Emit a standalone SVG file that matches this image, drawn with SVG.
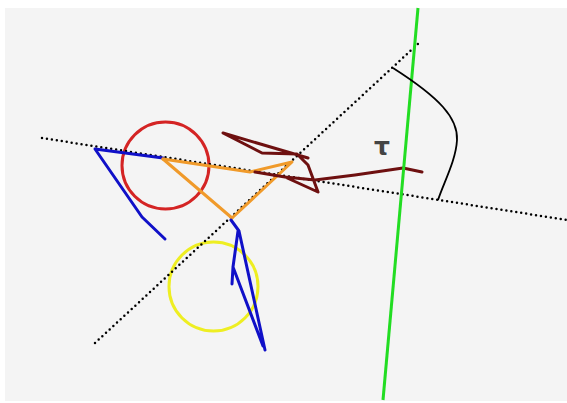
<svg xmlns="http://www.w3.org/2000/svg" width="567" height="403" viewBox="0 0 567 403">
<style>
.dot{fill:none;stroke:#000;stroke-width:2.5;stroke-linecap:round;stroke-dasharray:0 5}
.blue{fill:none;stroke:#1010c8;stroke-width:3;stroke-linejoin:round;stroke-linecap:round}
.orange{fill:none;stroke:#f09a2a;stroke-width:3;stroke-linejoin:round;stroke-linecap:round}
.dred{fill:none;stroke:#6e1010;stroke-width:3;stroke-linejoin:round;stroke-linecap:round}
</style>
<rect x="0" y="0" width="567" height="403" fill="#ffffff"/>
<rect x="5" y="8" width="562" height="393" fill="#f4f4f4"/>
<g id="circles">
<circle id="red-circle" cx="165.5" cy="165.5" r="43.5" fill="none" stroke="#d42424" stroke-width="3"/>
<circle id="yellow-circle" cx="213.5" cy="286.5" r="44.5" fill="none" stroke="#eeee22" stroke-width="3"/>
</g>
<g id="connectors">
<line class="dot" x1="42" y1="138" x2="567" y2="220"/>
<line class="dot" x1="95" y1="343" x2="420" y2="42"/>
<path class="blue" d="M163,158 L95,149 L142,217 L165,239"/>
<path class="orange" d="M163,159 L250,172 L292,162 L232,218"/>
<path class="orange" d="M163,159 L232,218" stroke="#e0963a"/>
<path class="blue" d="M231,220 L239,231 L265,350 M238,231 L233,267 L232,284 M233,267 L263,346"/>
<path class="dred" d="M308,158 L223,133 L262,153 L297,154 L308,165 L318,192 L285,177 L255,172 M285,177 L315,180 L355,175 L403,168 L422,172"/>
<line x1="418" y1="8" x2="383" y2="400" stroke="#22dd22" stroke-width="3"/>
<path d="M393,68 C440,98 458,118 457,140 C456,160 444,182 438,200" fill="none" stroke="#000" stroke-width="1.8"/>
</g>
<text x="374" y="155" font-family="DejaVu Sans, sans-serif" font-weight="bold" font-size="25" fill="#444">τ</text>
</svg>
